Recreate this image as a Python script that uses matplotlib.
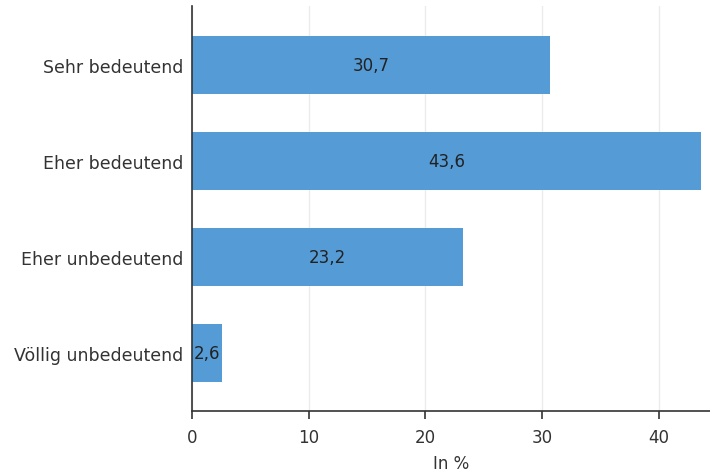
import matplotlib.pyplot as plt

# Daten
kategorien = ['Sehr bedeutend', 'Eher bedeutend', 'Eher unbedeutend', 'Völlig unbedeutend']
werte = [30.7, 43.6, 23.2, 2.6]
beschriftungen = ['30,7', '43,6', '23,2', '2,6']

plt.rcParams['font.family'] = ['DejaVu Sans']

fig = plt.figure(figsize=(7.1, 4.77), dpi=100)
ax = fig.add_axes([0.2704, 0.1363, 0.7296, 0.849])

pos = list(range(len(kategorien)))
balken = ax.barh(pos, werte, height=0.6, color='#559bd6', zorder=2)

# Werte mittig in die Balken
for b, txt in zip(balken, beschriftungen):
    ax.text(b.get_width() / 2, b.get_y() + b.get_height() / 2, txt,
            ha='center', va='center', fontsize=12, color='#222222')

ax.set_yticks(pos)
ax.set_yticklabels(kategorien, fontsize=12.5, color='#333333')
ax.set_ylim(3.604, -0.615)
ax.set_xlim(0, 44.37)
ax.set_xticks([0, 10, 20, 30, 40])
ax.tick_params(axis='x', labelsize=12, colors='#333333', length=6, width=1.2, pad=6)
ax.tick_params(axis='y', length=0, pad=6)

ax.grid(axis='x', color='#ebebeb', linewidth=1, zorder=0)
for s in ['top', 'right']:
    ax.spines[s].set_visible(False)
ax.spines['left'].set_color('#333333')
ax.spines['bottom'].set_color('#333333')
ax.spines['left'].set_linewidth(1.2)
ax.spines['bottom'].set_linewidth(1.2)

ax.set_xlabel('In %', fontsize=12, color='#333333', labelpad=6)

plt.savefig('out.png', dpi=100)
